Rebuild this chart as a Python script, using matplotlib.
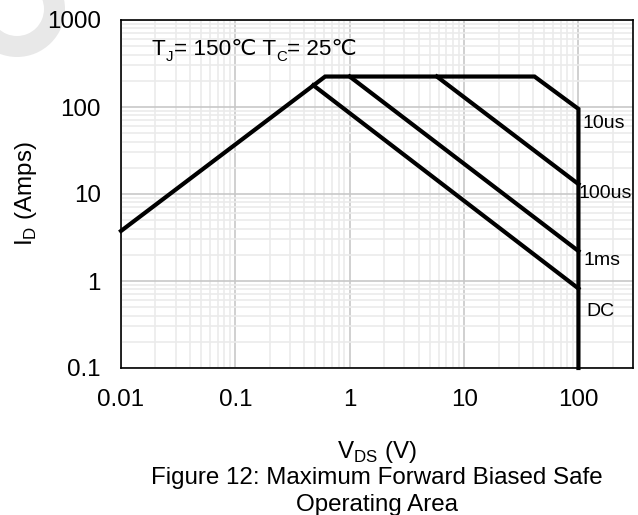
import matplotlib
matplotlib.use("Agg")
import matplotlib.pyplot as plt
from matplotlib.patches import Wedge
from matplotlib.transforms import IdentityTransform
from matplotlib.ticker import LogLocator, NullFormatter, FixedLocator, FixedFormatter

plt.rcParams['font.family'] = ['Liberation Sans', 'DejaVu Sans']
plt.rcParams['mathtext.fontset'] = 'custom'
plt.rcParams['mathtext.rm'] = 'Liberation Sans'

# --- data ---
# outer SOA boundary (RDS(on) limit, current limit, 10us, voltage limit)
boundary_v = [0.01, 0.61, 41.3, 100, 100]
boundary_i = [3.76, 224, 224, 95, 0.1]
dc_v = [0.48, 100]
dc_i = [178, 0.82]
ms1_v = [1.0, 100]
ms1_i = [224, 2.21]
us100_v = [5.78, 100]
us100_i = [224, 13.0]

curve_labels = ["10us", "100us", "1ms", "DC"]
label_v = [108, 100, 110, 117]
label_i = [64, 10.0, 1.73, 0.45]

x_ticks = [0.01, 0.1, 1, 10, 100]
x_ticklabels = ["0.01", "0.1", "1", "10", "100"]
y_ticks = [0.1, 1, 10, 100, 1000]
y_ticklabels = ["0.1", "1", "10", "100", "1000"]

FS = 17.4
TFS = 16.2
SUB = 10.8

fig = plt.figure(figsize=(6.38, 5.15), dpi=100)
ax = fig.add_axes([121/638, 1-368/515, (633-121)/638, (368-20)/515])

ax.set_xscale('log')
ax.set_yscale('log')
ax.set_xlim(0.01, 300)
ax.set_ylim(0.1, 1000)

ax.xaxis.set_major_locator(FixedLocator(x_ticks))
ax.xaxis.set_major_formatter(FixedFormatter(x_ticklabels))
ax.yaxis.set_major_locator(FixedLocator(y_ticks))
ax.yaxis.set_major_formatter(FixedFormatter(y_ticklabels))
ax.xaxis.set_minor_locator(LogLocator(base=10, subs=range(2, 10), numticks=20))
ax.yaxis.set_minor_locator(LogLocator(base=10, subs=range(2, 10), numticks=20))
ax.xaxis.set_minor_formatter(NullFormatter())
ax.yaxis.set_minor_formatter(NullFormatter())

ax.grid(True, which='major', color='#c8c8c8', lw=1.2)
ax.grid(True, which='minor', color='#ebebeb', lw=1.2)
ax.set_axisbelow(True)
ax.tick_params(which='both', length=0)
ax.tick_params(axis='x', pad=15, labelsize=FS)
ax.tick_params(axis='y', pad=14.5, labelsize=FS)
for s in ax.spines.values():
    s.set_linewidth(1.2)
    s.set_color('black')

lw = 3.0
ax.plot(boundary_v, boundary_i, color='black', lw=lw, solid_joinstyle='miter',
        solid_capstyle='projecting', clip_on=False)
ax.plot(dc_v, dc_i, color='black', lw=lw)
ax.plot(ms1_v, ms1_i, color='black', lw=lw)
ax.plot(us100_v, us100_i, color='black', lw=lw)

for t, xv, yv in zip(curve_labels, label_v, label_i):
    ax.text(xv, yv, t, fontsize=14, ha='left', va='center')

# "T_J= 150℃ T_C= 25℃" built from plain text pieces (keeps the ℃ glyph)
t1 = ax.text(0.06, 0.886, "T", transform=ax.transAxes, fontsize=TFS,
             ha='left', va='bottom')
t2 = ax.annotate("J", xy=(1, 0), xycoords=t1, xytext=(0, -3),
                 textcoords='offset points', fontsize=SUB, ha='left', va='bottom')
t3 = ax.annotate("= 150℃ T", xy=(1, 0), xycoords=(t2, t1), xytext=(0.5, 0),
                 textcoords='offset points', fontsize=TFS, ha='left', va='bottom')
t4 = ax.annotate("C", xy=(1, 0), xycoords=t3, xytext=(0, -3),
                 textcoords='offset points', fontsize=SUB, ha='left', va='bottom')
t5 = ax.annotate("= 25℃", xy=(1, 0), xycoords=(t4, t1), xytext=(0.5, 0),
                 textcoords='offset points', fontsize=TFS, ha='left', va='bottom')

ax.set_ylabel(r'I$_\mathregular{D}$ (Amps)', fontsize=FS, va='center')
ax.yaxis.set_label_coords(-0.185, 0.5)
ax.set_xlabel(r'V$_\mathregular{DS}$ (V)', fontsize=FS, va='center')
ax.xaxis.set_label_coords(0.5, -0.24)

fig.text(377/638, 1-478/515, 'Figure 12: Maximum Forward Biased Safe',
         fontsize=FS, ha='center', va='center')
fig.text(377/638, 1-505/515, 'Operating Area',
         fontsize=FS, ha='center', va='center')

# light grey logo ring in the top-left corner (behind everything)
ring = Wedge((17, 515-9), 48, 0, 360, width=21, transform=IdentityTransform(),
             facecolor='#e8e8e8', edgecolor='none', zorder=-5)
fig.add_artist(ring)

fig.savefig('out.png', dpi=100)
